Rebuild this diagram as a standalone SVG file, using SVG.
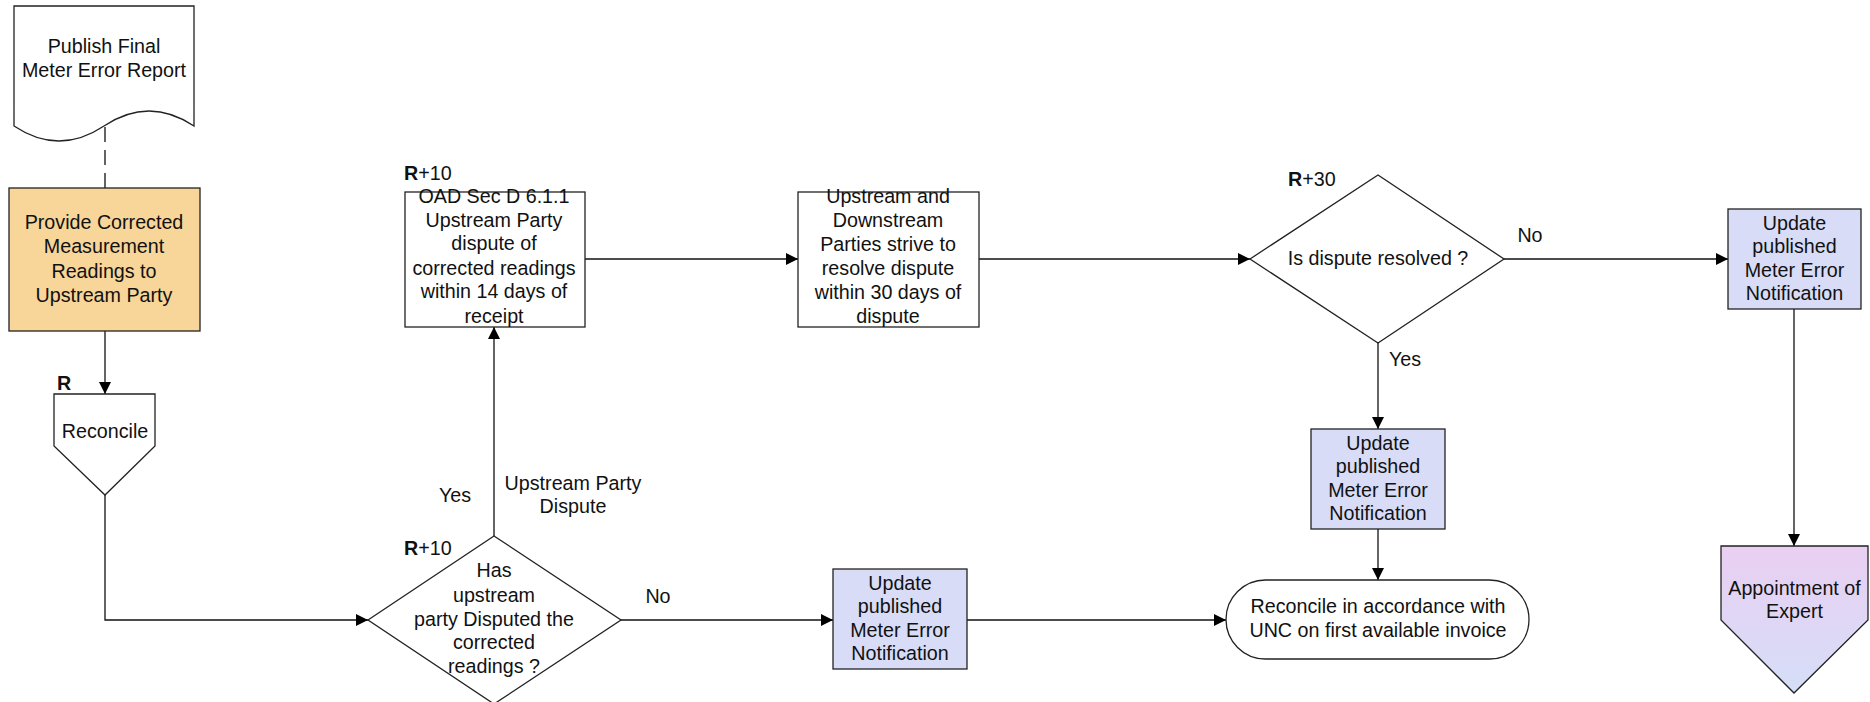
<svg xmlns="http://www.w3.org/2000/svg" width="1870" height="702" viewBox="0 0 1870 702">
<style>
text{font-family:"Liberation Sans",Arial,sans-serif;font-size:19.7px;fill:#111;}
.c{text-anchor:middle;}
.b{font-weight:bold;}
.shape{stroke:#222;stroke-width:1.3;}
.w{fill:#fff;}
.blue{fill:#D8DCF7;}
.orange{fill:#F8D598;}
.conn{fill:none;stroke:#111;stroke-width:1.3;}
</style>
<defs>
<marker id="arr" viewBox="0 0 12 12" refX="12" refY="6" markerWidth="12" markerHeight="12" markerUnits="userSpaceOnUse" orient="auto">
<path d="M0,0 L12,6 L0,12 Z" fill="#000"/>
</marker>
<linearGradient id="purp" x1="0" y1="0" x2="0" y2="1">
<stop offset="0" stop-color="#EACFF2"/>
<stop offset="1" stop-color="#D5DEF8"/>
</linearGradient>
</defs>
<g id="connectors">
<path class="conn" d="M105,127 V188" stroke-dasharray="15,8"/>
<path class="conn" d="M105,331 V394" marker-end="url(#arr)"/>
<path class="conn" d="M105,495 V620 H368" marker-end="url(#arr)"/>
<path class="conn" d="M494,536 V327" marker-end="url(#arr)"/>
<path class="conn" d="M621,620 H833" marker-end="url(#arr)"/>
<path class="conn" d="M585,259 H798" marker-end="url(#arr)"/>
<path class="conn" d="M979,259 H1250" marker-end="url(#arr)"/>
<path class="conn" d="M1504,259 H1728" marker-end="url(#arr)"/>
<path class="conn" d="M1378,343 V429" marker-end="url(#arr)"/>
<path class="conn" d="M1378,529 V580" marker-end="url(#arr)"/>
<path class="conn" d="M967,620 H1226" marker-end="url(#arr)"/>
<path class="conn" d="M1794,309 V546" marker-end="url(#arr)"/>
<text x="455" y="502" class="c">Yes</text>
<text x="573" y="490" class="c">Upstream Party</text>
<text x="573" y="513" class="c">Dispute</text>
<text x="658" y="603" class="c">No</text>
<text x="1530" y="242" class="c">No</text>
<text x="1405" y="366" class="c">Yes</text>
</g>
<g id="n_publish">
<path class="shape w" d="M14,6 H194 V126 Q149,96 104,126 Q59,156 14,126 Z"/>
<text x="104" y="53" class="c">Publish Final</text>
<text x="104" y="77" class="c">Meter Error Report</text>
</g>
<g id="n_provide">
<rect class="shape orange" x="9" y="188" width="191" height="143"/>
<text x="104" y="229" class="c">Provide Corrected</text>
<text x="104" y="253" class="c">Measurement</text>
<text x="104" y="278" class="c">Readings to</text>
<text x="104" y="302" class="c">Upstream Party</text>
</g>
<g id="n_reconcile">
<path class="shape w" d="M54,394 H155 V446 L105,495 L54,446 Z"/>
<text x="57" y="390" class="b">R</text>
<text x="105" y="438" class="c">Reconcile</text>
</g>
<g id="n_has">
<path class="shape w" d="M368,620 L494,536 L621,620 L494,704 Z"/>
<text x="404" y="555"><tspan class="b">R</tspan>+10</text>
<text x="494" y="577" class="c">Has</text>
<text x="494" y="602" class="c">upstream</text>
<text x="494" y="626" class="c">party Disputed the</text>
<text x="494" y="649" class="c">corrected</text>
<text x="494" y="673" class="c">readings ?</text>
</g>
<g id="n_oad">
<rect class="shape w" x="405" y="192" width="180" height="135"/>
<text x="404" y="180"><tspan class="b">R</tspan>+10</text>
<text x="494" y="203" class="c">OAD Sec D 6.1.1</text>
<text x="494" y="227" class="c">Upstream Party</text>
<text x="494" y="250" class="c">dispute of</text>
<text x="494" y="275" class="c">corrected readings</text>
<text x="494" y="298" class="c">within 14 days of</text>
<text x="494" y="323" class="c">receipt</text>
</g>
<g id="n_strive">
<rect class="shape w" x="798" y="192" width="181" height="135"/>
<text x="888" y="203" class="c">Upstream and</text>
<text x="888" y="227" class="c">Downstream</text>
<text x="888" y="251" class="c">Parties strive to</text>
<text x="888" y="275" class="c">resolve dispute</text>
<text x="888" y="299" class="c">within 30 days of</text>
<text x="888" y="323" class="c">dispute</text>
</g>
<g id="n_resolved">
<path class="shape w" d="M1250,259 L1378,175 L1504,259 L1378,343 Z"/>
<text x="1288" y="186"><tspan class="b">R</tspan>+30</text>
<text x="1378" y="265" class="c">Is dispute resolved ?</text>
</g>
<g id="n_update_right">
<rect class="shape blue" x="1728" y="209" width="133" height="100"/>
<text x="1794.5" y="230" class="c">Update</text>
<text x="1794.5" y="253" class="c">published</text>
<text x="1794.5" y="277" class="c">Meter Error</text>
<text x="1794.5" y="300" class="c">Notification</text>
</g>
<g id="n_update_mid">
<rect class="shape blue" x="1311" y="429" width="134" height="100"/>
<text x="1378" y="450" class="c">Update</text>
<text x="1378" y="473" class="c">published</text>
<text x="1378" y="497" class="c">Meter Error</text>
<text x="1378" y="520" class="c">Notification</text>
</g>
<g id="n_update_bottom">
<rect class="shape blue" x="833" y="569" width="134" height="100"/>
<text x="900" y="590" class="c">Update</text>
<text x="900" y="613" class="c">published</text>
<text x="900" y="637" class="c">Meter Error</text>
<text x="900" y="660" class="c">Notification</text>
</g>
<g id="n_terminal">
<rect class="shape w" x="1226" y="580" width="303" height="79" rx="39.5" ry="39.5"/>
<text x="1378" y="613" class="c">Reconcile in accordance with</text>
<text x="1378" y="637" class="c">UNC on first available invoice</text>
</g>
<g id="n_expert">
<path class="shape" fill="url(#purp)" d="M1721,546 H1868 V620 L1794,693 L1721,620 Z"/>
<text x="1794.5" y="595" class="c">Appointment of</text>
<text x="1794.5" y="618" class="c">Expert</text>
</g>
</svg>
